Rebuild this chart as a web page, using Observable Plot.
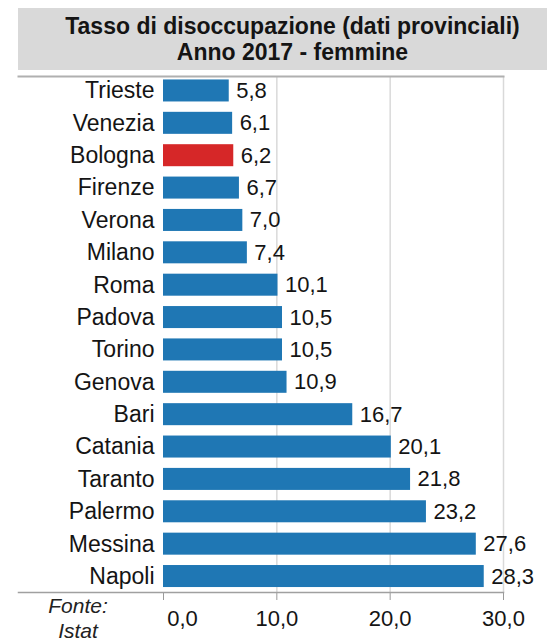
<!DOCTYPE html>
<html>
<head>
<meta charset="utf-8">
<script src="https://cdn.jsdelivr.net/npm/d3@7"></script>
<script src="https://cdn.jsdelivr.net/npm/@observablehq/plot@0.6"></script>
<style>
  html, body { margin: 0; padding: 0; background: #fff; }
  body { width: 547px; height: 643px; position: relative; overflow: hidden; font-family: "Liberation Sans", Arial, sans-serif; }
  #title {
    position: absolute; left: 18px; top: 8px; width: 529px; height: 62px; box-sizing: border-box; padding-left: 20px;
    background: #d9d9d9; color: #141414; font-weight: bold; font-size: 23px;
    line-height: 26px; text-align: center; display: flex; flex-direction: column; justify-content: center;
  }
  #chart { position: absolute; left: 0; top: 70px; }
  #source {
    position: absolute; left: 28px; width: 100px; top: 593px; text-align: center;
    font-style: italic; font-size: 21px; line-height: 25px; color: #222;
  }
  #chart g[aria-label^="y-axis"] { font-size: 23px; }
  #chart g[aria-label^="x-axis"] path, #chart g[aria-label^="x-axis"] line { stroke: #9a9a9a; }
</style>
</head>
<body>
<div id="title"><div>Tasso di disoccupazione (dati provinciali)</div><div>Anno 2017 - femmine</div></div>
<div id="chart"></div>
<div id="source">Fonte:<br>Istat</div>
<script>
const cities = ["Trieste","Venezia","Bologna","Firenze","Verona","Milano","Roma","Padova","Torino","Genova","Bari","Catania","Taranto","Palermo","Messina","Napoli"];
const rates  = [5.8, 6.1, 6.2, 6.7, 7.0, 7.4, 10.1, 10.5, 10.5, 10.9, 16.7, 20.1, 21.8, 23.2, 27.6, 28.3];
const highlighted = "Bologna";
const xTicks = [0, 10, 20, 30];
const gridTicks = [10, 20, 30];

const data = cities.map((c, i) => ({city: c, rate: rates[i]}));
const fmt = v => d3.format(".1f")(v).replace(".", ",");

const plot = Plot.plot({
  width: 547,
  height: 573,
  marginLeft: 163,
  marginRight: 44,
  marginTop: 6,
  marginBottom: 51,
  style: { fontFamily: "Liberation Sans, Arial, sans-serif", fontSize: "22px", color: "#141414", background: "transparent" },
  x: { domain: [0, 30], ticks: xTicks, tickFormat: fmt, tickSize: 8, tickPadding: 10, label: null },
  y: { domain: cities, round: false, paddingInner: 0.32, paddingOuter: 0.13, align: 0.41, tickSize: 0, tickPadding: 9, label: null },
  marks: [
    Plot.ruleX(gridTicks, { stroke: "#d9d9d9", strokeWidth: 1.5 }),
    Plot.frame({ anchor: "top", stroke: "#b0b0b0", strokeWidth: 2, insetLeft: -145 }),
    Plot.frame({ anchor: "bottom", stroke: "#a0a0a0", strokeWidth: 1.5, insetLeft: -145 }),
    Plot.barX(data, { x: "rate", y: "city", fill: d => d.city === highlighted ? "#d62728" : "#1f77b4" }),
    Plot.text(data, { x: "rate", y: "city", text: d => fmt(d.rate), textAnchor: "start", dx: 7, fontSize: 22, fill: "#141414" })
  ]
});
document.getElementById("chart").appendChild(plot);
// the first x tick label sits just right of its tick in the reference
const xLabels = d3.select(plot).selectAll('g[aria-label^="x-axis"] text');
if (!xLabels.empty()) d3.select(xLabels.nodes()[0]).attr("dx", 19);
</script>
</body>
</html>
